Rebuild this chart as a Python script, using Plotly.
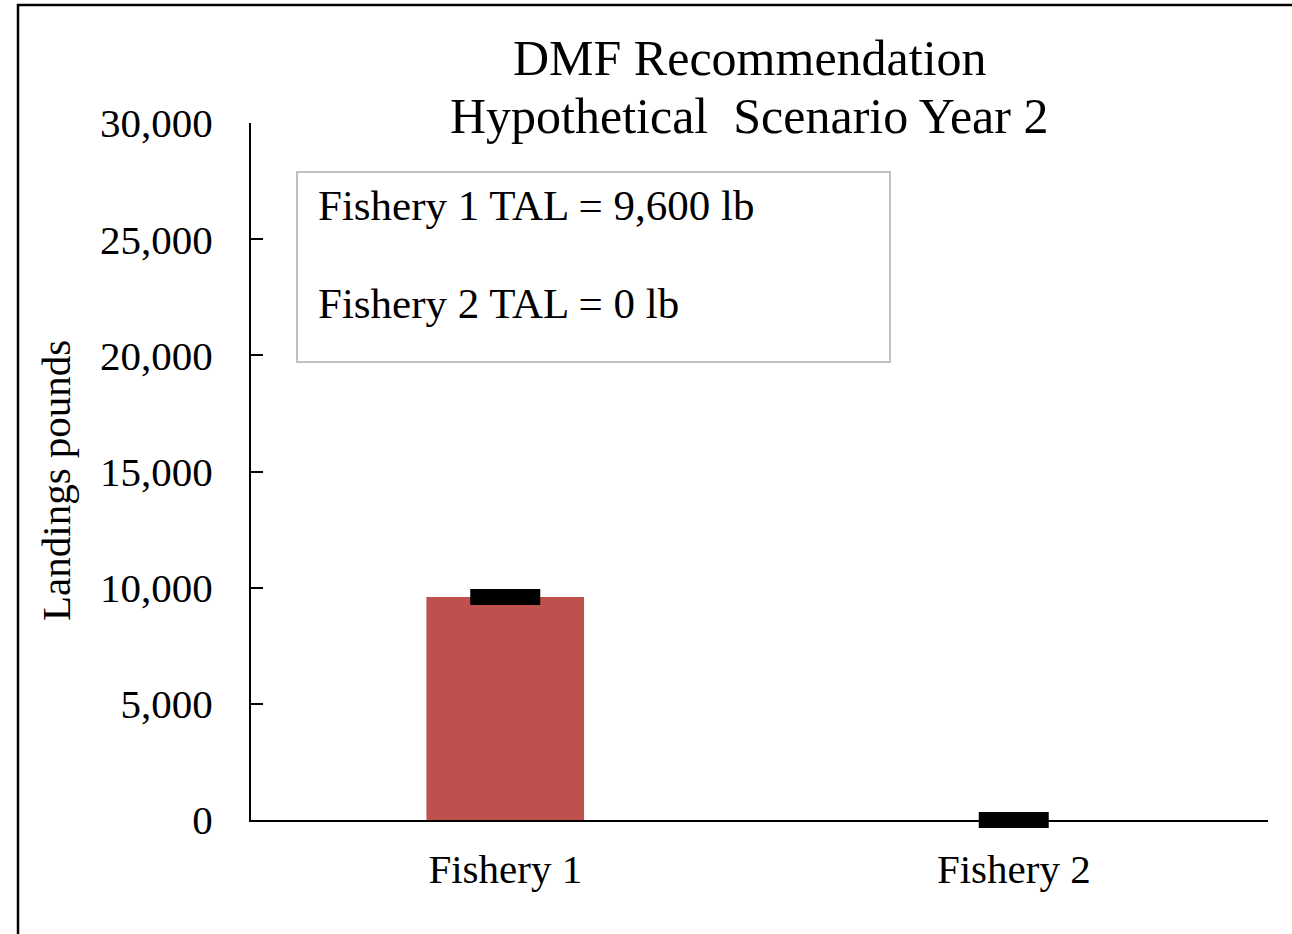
import plotly.graph_objects as go

categories = ["Fishery 1", "Fishery 2"]
landings = [9600, 0]
tal = [9600, 0]
tick_vals = [0, 5000, 10000, 15000, 20000, 25000, 30000]
tick_text = ["0", "5,000", "10,000", "15,000", "20,000", "25,000", "30,000"]
title_lines = ["DMF Recommendation", "Hypothetical\u00a0 Scenario Year 2"]
y_title = "Landings pounds"
box_lines = ["Fishery 1 TAL = 9,600 lb", "Fishery 2 TAL = 0 lb"]

FONT = "Liberation Serif, Times New Roman, serif"
W, H = 1292, 934
L, T = 251, 123
R = W - 1268
B = H - 820
pw, ph = W - L - R, H - T - B

def px_x(x):
    return (x - L) / pw

def px_y(y):
    return (H - B - y) / ph

fig = go.Figure()
fig.add_trace(go.Bar(x=categories, y=landings, marker=dict(color="#C0504D", line=dict(width=0)),
                     showlegend=False, hoverinfo="skip"))
fig.add_trace(go.Scatter(x=categories, y=tal, mode="markers", cliponaxis=False,
                         marker=dict(symbol="line-ew", size=50, color="black",
                                     line=dict(width=16, color="black")),
                         showlegend=False, hoverinfo="skip"))

fig.update_layout(
    width=W, height=H,
    margin=dict(l=L, r=R, t=T, b=B),
    paper_bgcolor="white", plot_bgcolor="white",
    font=dict(family=FONT, color="black", size=41),
    bargap=0.69,
    xaxis=dict(showline=True, linecolor="black", linewidth=2, ticks="",
               showgrid=False, zeroline=False, ticklabelstandoff=12,
               tickfont=dict(size=41)),
    yaxis=dict(range=[0, 30000], tickvals=tick_vals, ticktext=tick_text,
               showline=True, linecolor="black", linewidth=2,
               ticks="inside", ticklen=12, tickwidth=2, tickcolor="black",
               showgrid=False, zeroline=False, ticklabelstandoff=28,
               tickfont=dict(size=41)),
    shapes=[
        dict(type="rect", xref="paper", yref="paper",
             x0=px_x(18), x1=px_x(1330), y0=px_y(970), y1=px_y(5),
             line=dict(color="black", width=2.5), fillcolor="rgba(0,0,0,0)", layer="below"),
        dict(type="rect", xref="paper", yref="paper",
             x0=px_x(297), x1=px_x(890), y0=px_y(362), y1=px_y(172),
             line=dict(color="#BFBFBF", width=2), fillcolor="white", layer="above"),
    ],
    annotations=[
        dict(text=title_lines[0], xref="paper", yref="paper", x=px_x(750), y=px_y(58),
             xanchor="center", yanchor="middle", showarrow=False, font=dict(size=50)),
        dict(text=title_lines[1], xref="paper", yref="paper", x=px_x(749), y=px_y(116),
             xanchor="center", yanchor="middle", showarrow=False, font=dict(size=50)),
        dict(text=y_title, xref="paper", yref="paper", x=px_x(56), y=px_y(481),
             xanchor="center", yanchor="middle", textangle=-90, showarrow=False,
             font=dict(size=41)),
        dict(text=box_lines[0], xref="paper", yref="paper", x=px_x(316), y=px_y(205),
             xanchor="left", yanchor="middle", showarrow=False, font=dict(size=43)),
        dict(text=box_lines[1], xref="paper", yref="paper", x=px_x(316), y=px_y(303),
             xanchor="left", yanchor="middle", showarrow=False, font=dict(size=43)),
    ],
)

fig.write_html("out.html", config={"displayModeBar": False},
               post_script="document.body.style.margin='0';document.body.style.overflow='hidden';")
